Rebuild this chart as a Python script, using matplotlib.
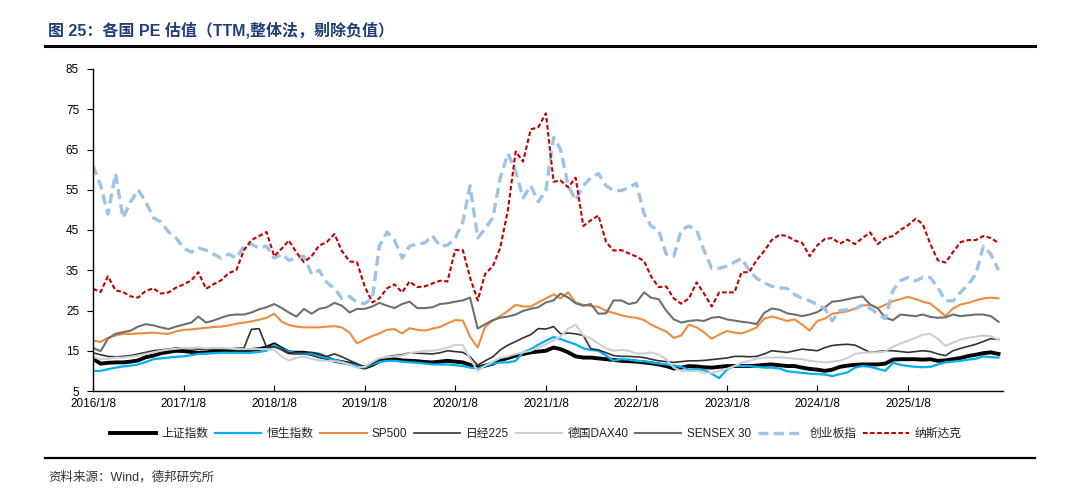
import matplotlib
matplotlib.use("Agg")
import matplotlib.pyplot as plt
import matplotlib.dates as mdates
import pandas as pd
import datetime as dt

# ---------------- data (monthly readings, 2016/1/8 .. 2026/1/8) ----------------
start_date = "2016-01-08"
n_months = 121

sh = [13, 11.8, 12, 12.1, 12.1, 12.3, 12.6, 13.4, 13.8, 14.4, 14.7, 15,
      14.9, 14.7, 14.5, 14.6, 14.8, 15, 15, 15, 15, 15.2, 15.4, 15.8,
      16.6, 15.5, 14.6, 14.5, 14.5, 14.2, 13.6, 13.2, 12.5, 12.2, 11.8, 11.3,
      10.8, 11.5, 12.4, 12.9, 12.9, 12.6, 12.5, 12.4, 12.2, 12.1, 12.3, 12.5,
      12.3, 12.1, 11.5, 10.8, 11.3, 11.8, 12.7, 13.2, 13.8, 14.2, 14.6, 14.8,
      15, 15.8, 15.4, 14.6, 13.6, 13.3, 13.3, 13.1, 12.9, 12.7, 12.5, 12.4,
      12.3, 12.1, 11.9, 11.6, 11.2, 10.6, 10.8, 11.2, 11.1, 10.9, 10.8, 11,
      11.2, 11.2, 11.2, 11.2, 11.3, 11.5, 11.6, 11.4, 11.2, 11.2, 10.8, 10.5,
      10.3, 10, 10.3, 11, 11.3, 11.5, 11.6, 11.6, 11.6, 11.8, 12.8, 12.9,
      12.9, 12.9, 12.8, 12.9, 12.5, 12.6, 12.9, 13.2, 13.7, 14, 14.4, 14.6,
      14.2]

hsi = [10, 10, 10.4, 10.8, 11.1, 11.3, 11.6, 12.2, 12.9, 13.1, 13.3, 13.5,
       13.6, 13.9, 14.2, 14.3, 14.4, 14.5, 14.5, 14.5, 14.5, 14.5, 14.7, 15,
       16.4, 15.4, 14.8, 14.4, 14.3, 14.2, 13.6, 13.2, 12.7, 12.3, 11.7, 11.3,
       10.8, 11.6, 12.2, 12.5, 12.5, 12.3, 12.1, 12, 11.8, 11.6, 11.6, 11.6,
       11.4, 11.2, 10.8, 10.6, 11.2, 11.8, 12.1, 12.1, 12.5, 14.6, 15.4, 16.5,
       17.5, 18.4, 17.9, 17.2, 16.6, 15.6, 15.2, 15, 13.8, 12.5, 12.9, 12.8,
       12.5, 12.4, 12.1, 11.8, 11.6, 11.3, 11, 10.3, 10.5, 10.2, 9.3, 8.2,
       10.3, 11.2, 11.2, 11.2, 11, 10.8, 10.8, 10.6, 9.9, 9.7, 9.5, 9.3,
       9.2, 9.1, 8.7, 9.2, 9.6, 10.8, 11.2, 11, 10.5, 10, 12, 11.5,
       11.2, 11, 10.9, 11, 11.6, 12.1, 12.3, 12.5, 12.8, 13, 13.6, 13.4,
       13.3]

sp500 = [17.5, 17.2, 18.2, 18.8, 19.2, 19.2, 19.3, 19.4, 19.5, 19.3, 19.2, 19.8,
         20.2, 20.3, 20.5, 20.7, 20.9, 21, 21.3, 21.7, 22, 22.3, 22.7, 23.2,
         24.2, 22.2, 21.4, 21, 20.8, 20.8, 20.8, 21, 21.1, 20.8, 19.5, 16.8,
         17.8, 18.7, 19.3, 20.2, 20.4, 19.3, 20.6, 20.2, 20, 20.5, 20.9, 21.8,
         22.6, 22.5, 18.5, 15.8, 21, 22.5, 23.6, 24.9, 26.4, 26, 26, 27,
         28, 29, 28, 29.5, 27, 26.4, 26.1, 25.9, 24.9, 24.4, 23.8, 23.4,
         23.2, 22.6, 21.5, 20.6, 19.8, 18.2, 18.8, 21.5, 20.8, 19.6, 18, 19,
         19.9, 19.5, 19.3, 20, 20.8, 23, 23.5, 23, 22.4, 22.8, 21.5, 20,
         22.4, 23, 24.2, 24.5, 24.8, 25.5, 26.2, 26.4, 25.6, 26.4, 27.3, 27.8,
         28.4, 27.8, 27.2, 26.7, 25.2, 23.6, 25.5, 26.5, 26.9, 27.5, 28, 28.2,
         28]

nikkei = [14.5, 14, 13.6, 13.5, 13.6, 13.8, 14.2, 14.6, 15, 15.2, 15.4, 15.7,
          15.6, 15.5, 15.4, 15.4, 15.3, 15.4, 15.4, 15.6, 15.7, 20.3, 20.5, 15.9,
          15.9, 15.4, 14.5, 14.5, 14.5, 14.6, 14.3, 13.6, 14.2, 13.5, 12.6, 11.8,
          10.9, 11.8, 12.8, 13.5, 13.8, 14, 14.5, 14.4, 14.3, 14.2, 14.5, 15,
          14.8, 14.6, 13.5, 11.4, 12.5, 13.5, 15.2, 16.4, 17.3, 18.2, 19, 20.5,
          20.4, 21, 19.2, 19.4, 19.2, 18.8, 15.5, 15.2, 14.5, 13.8, 13.6, 13.6,
          13.5, 13.3, 12.9, 12.5, 12.3, 12.1, 12.3, 12.5, 12.5, 12.6, 12.8, 13,
          13.2, 13.6, 13.6, 13.5, 13.6, 14.2, 15, 14.8, 14.6, 15, 15.4, 15.2,
          15, 15.8, 16.3, 16.5, 16.6, 16.4, 15.5, 14.6, 14.8, 15, 15, 14.8,
          14.6, 14.8, 15, 14.8, 14.2, 13.8, 15, 15.6, 16.1, 16.6, 17.3, 18,
          17.8]

dax = [13.5, 12.8, 13, 13.3, 13.3, 13.5, 13.8, 14.2, 14.6, 15, 15.3, 15.5,
       15.7, 15.7, 15.8, 15.6, 15.7, 15.7, 15.6, 15.4, 15.4, 15.4, 15.4, 15.4,
       15.2, 13.5, 12.6, 13.2, 13.6, 13, 12.6, 12.5, 12.4, 12.1, 11.5, 10.8,
       11, 12.2, 13.2, 13.4, 13.6, 13.8, 14.4, 14.7, 15, 15, 15.3, 15.8,
       16.5, 16.4, 13, 10, 11.3, 12.3, 13.2, 13.6, 14.2, 14.6, 15, 15.8,
       16.6, 17.6, 18.5, 20.5, 21.5, 18.8, 18, 16.8, 15.6, 15, 15.2, 15,
       14.3, 14.3, 14.6, 14, 12.9, 10.8, 10, 10, 10, 9.5, 9.5, 10,
       10.5, 11.2, 12, 12.5, 13, 13.3, 13.3, 13.4, 13.2, 13, 12.9, 12.5,
       12.3, 12.1, 12.3, 12.5, 13.2, 14.2, 14.5, 14.6, 14.6, 14.8, 16, 16.8,
       17.5, 18.2, 19, 19.2, 18, 16.2, 17, 17.8, 18.2, 18.5, 18.8, 18.6,
       17.8]

sensex = [15.7, 14.9, 18, 19.2, 19.6, 20, 21, 21.6, 21.3, 20.8, 20.4, 21,
          21.5, 22, 23.5, 22, 22.5, 23.2, 23.8, 24, 24, 24.5, 25.3, 25.8,
          26.6, 25.6, 24.5, 23.5, 25.4, 24.2, 25.4, 25.8, 26.9, 26.2, 24.5, 25.4,
          25.4, 26, 26.9, 26.2, 25.6, 26.6, 27.2, 25.6, 25.6, 25.8, 26.6, 26.8,
          27.2, 27.5, 28.2, 20.5, 21.6, 22.6, 23.2, 23.5, 24, 24.9, 25.4, 25.8,
          27, 27.5, 29.2, 28.2, 26.8, 26.2, 26.6, 24.2, 24.3, 27.5, 27.5, 26.6,
          27, 29.5, 28.2, 27.8, 25, 22.8, 22, 22.4, 22.6, 22.4, 23.2, 23.4,
          22.8, 22.5, 22.2, 22, 21.6, 24.4, 25.5, 25.2, 24.3, 24, 23.6, 24,
          24.6, 25.8, 27.2, 27.4, 27.8, 28.2, 28.5, 26.5, 25.5, 23.2, 22.6, 24,
          23.8, 23.6, 24, 23.4, 23.2, 23.3, 24, 23.6, 23.8, 24, 24, 23.6,
          22.2]

chinext = [61, 56, 49, 59, 48, 52, 55, 52, 48, 47, 44.5, 43,
           40.5, 39.5, 40.5, 40, 39, 38, 39, 38, 41, 41.5, 40.5, 41,
           38, 39, 37.5, 38, 38.5, 34, 35, 32, 30.5, 28, 28.5, 27,
           26.7, 28, 41, 44.5, 42.5, 38, 41, 41.5, 41.8, 43.6, 41, 41.2,
           43, 47, 56, 43, 45.4, 48, 58, 64, 59.5, 53, 56, 52,
           54.8, 68, 65, 56, 52.4, 56, 58, 59, 56, 54.8, 54.8, 55.5,
           56.6, 49, 46, 44.9, 39, 38.5, 45, 46, 44.9, 39.9, 35.5, 35.5,
           36, 37, 38, 35, 33, 31.9, 31, 30.6, 30.5, 29, 28, 27.4,
           26.5, 25.4, 22.4, 25, 25.2, 25.4, 26.3, 25.5, 24.2, 23, 30, 32.4,
           33.2, 32.4, 33.2, 33.2, 30.7, 27.4, 27.4, 29.5, 31.5, 34, 41, 39,
           35]

nasdaq = [30.4, 29.6, 33.5, 30, 29.6, 28.5, 28.2, 29.9, 30.5, 29.2, 29.5, 30.7,
          31.5, 32.5, 34.5, 30.4, 31.5, 32.5, 34.3, 35, 40, 42.5, 43.5, 44.5,
          38.5, 40.4, 42.4, 39.4, 37, 38.5, 41.1, 42, 44, 39.8, 37.2, 37,
          31, 27, 28, 30.5, 31.5, 29.5, 32.2, 30.8, 31, 31.7, 32.4, 32.2,
          40, 40, 33.2, 27.5, 34.1, 36, 40.6, 50, 64.5, 62, 70, 70.5,
          74, 57, 57.3, 55.6, 58, 46, 47.4, 48.6, 42, 39.9, 40, 39.2,
          38.4, 37.3, 33.5, 30.8, 31, 28, 26.7, 28, 32, 29.2, 26, 29.5,
          29.5, 29.5, 34.5, 34.5, 37.5, 39.8, 42.5, 43.8, 43.5, 42.4, 41.8, 38.5,
          41.2, 42.8, 43, 41.6, 42.6, 41.5, 43, 44.4, 41.5, 43, 43.5, 45,
          46.2, 47.8, 46.5, 41.5, 37.5, 36.9, 39.5, 42, 42.5, 42.5, 43.5, 43,
          41.8]

series_names = ["上证指数", "恒生指数", "SP500", "日经225", "德国DAX40",
                "SENSEX 30", "创业板指", "纳斯达克"]
series_values = [sh, hsi, sp500, nikkei, dax, sensex, chinext, nasdaq]

yticks = [5, 15, 25, 35, 45, 55, 65, 75, 85]
xtick_years = list(range(2016, 2026))

title = "图 25：各国 PE 估值（TTM,整体法，剔除负值）"
source = "资料来源：Wind，德邦研究所"

# ---------------- styles ----------------
styles = [
    dict(color="#000000", lw=2.8, ls="-"),
    dict(color="#00b0f0", lw=1.6, ls="-"),
    dict(color="#f08a3c", lw=1.5, ls="-"),
    dict(color="#333333", lw=1.2, ls="-"),
    dict(color="#cfcfcf", lw=1.5, ls="-"),
    dict(color="#6f6f6f", lw=1.5, ls="-"),
    dict(color="#9dc3e6", lw=2.4, ls=(0, (3.0, 1.6))),
    dict(color="#c00000", lw=1.5, ls=(0, (2.2, 1.2))),
]

FONT = ["Liberation Sans", "Noto Sans CJK SC", "DejaVu Sans"]
plt.rcParams["font.family"] = FONT

dates = pd.date_range(start_date, periods=n_months, freq=pd.DateOffset(months=1))

fig = plt.figure(figsize=(10.8, 5.01), dpi=100)
ax = fig.add_axes([93 / 1080, 1 - 391 / 501, (1003 - 93) / 1080, (391 - 69) / 501])

handles = []
for name, vals, st in zip(series_names, series_values, styles):
    h, = ax.plot(dates, vals, color=st["color"], lw=st["lw"], ls=st["ls"],
                 label=name, solid_joinstyle="round")
    handles.append(h)

ax.set_ylim(5, 85)
ax.set_yticks(yticks)
ax.set_xlim(dates[0], dates[-1] + pd.Timedelta(days=18))
xt = [dt.datetime(y, 1, 8) for y in xtick_years]
ax.set_xticks(xt)
ax.set_xticklabels([f"{y}/1/8" for y in xtick_years])

for s in ["top", "right"]:
    ax.spines[s].set_visible(False)
for s in ["left", "bottom"]:
    ax.spines[s].set_color("#000000")
    ax.spines[s].set_linewidth(1.0)
ax.tick_params(axis="y", direction="out", length=4, width=0.8, labelsize=8.5,
               pad=6, colors="#000000")
ax.tick_params(axis="x", direction="in", length=4, width=0.8, labelsize=8.5,
               pad=5, colors="#000000")
for lab in ax.get_xticklabels() + ax.get_yticklabels():
    lab.set_family(FONT)

leg = fig.legend(handles=handles, labels=series_names, loc="center",
                 bbox_to_anchor=(0.496, 1 - 434 / 501), ncol=8, frameon=False,
                 fontsize=8.5, handlelength=3.9, handletextpad=0.45,
                 columnspacing=0.6, borderaxespad=0)
for t in leg.get_texts():
    t.set_family(FONT)
    t.set_color("#222222")

# title and rules
fig.text(48 / 1080, 1 - 30 / 501, title, fontsize=11.5, fontweight="bold",
         color="#1f3f7a", ha="left", va="center", family=FONT)
fig.add_artist(plt.Line2D([45 / 1080, 1035 / 1080], [1 - 46 / 501, 1 - 46 / 501],
                          color="#000000", lw=2.2, transform=fig.transFigure))
fig.add_artist(plt.Line2D([45 / 1080, 1035 / 1080], [1 - 458 / 501, 1 - 458 / 501],
                          color="#000000", lw=1.6, transform=fig.transFigure))
fig.text(48 / 1080, 1 - 477 / 501, source, fontsize=9, color="#333333",
         ha="left", va="center", family=FONT)

fig.savefig("out.png", dpi=100)
